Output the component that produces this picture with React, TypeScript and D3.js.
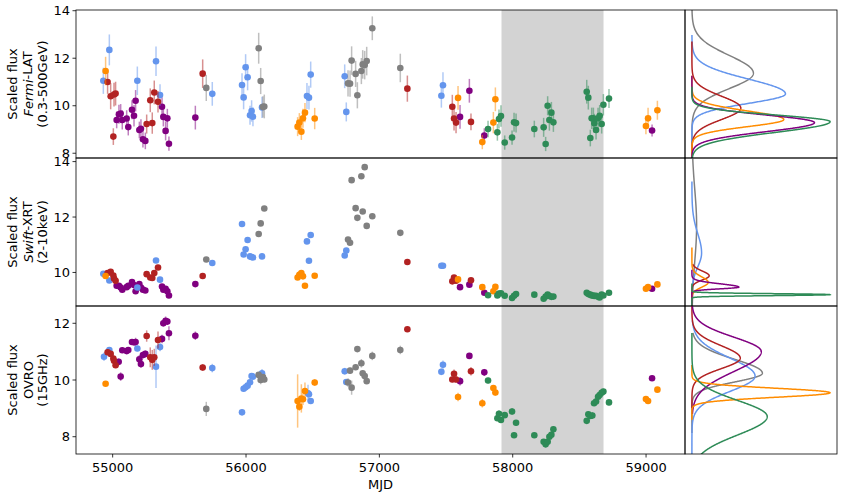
import React from 'react';
import * as d3 from 'd3';

type Pt = [number, number, number, string]; // MJD, scaled flux, error, season key
type Curve = [string, number, number, number, number, number, number]; // key, peak, mean, sdDown, sdUp, lo, hi

const mjdTicks = [55000, 56000, 57000, 58000, 59000];
const fermiTicks = [8, 10, 12, 14];
const swiftTicks = [10, 12, 14];
const ovroTicks = [8, 10, 12];
const shadedMjd = [57916, 58681];
const drawOrder = ['p', 'b', 'r', 'k', 'o', 'g'];

const fermiPoints: Pt[] = [
  [55030, 9.4, 0.35, 'p'], [55047, 9.64, 0.4, 'p'], [55060, 9.67, 0.4, 'p'], [55072, 9.4, 0.4, 'p'],
  [55105, 9.46, 0.35, 'p'], [55117, 9.1, 0.35, 'p'], [55145, 9.83, 0.4, 'p'], [55160, 9.58, 0.45, 'p'],
  [55172, 10.21, 0.45, 'p'], [55200, 8.98, 0.35, 'p'], [55212, 9.03, 0.4, 'p'], [55227, 8.59, 0.35, 'p'],
  [55245, 8.52, 0.35, 'p'], [55370, 9.96, 0.4, 'p'], [55380, 9.53, 0.4, 'p'], [55397, 8.94, 0.4, 'p'],
  [55410, 9.47, 0.4, 'p'], [55422, 8.4, 0.3, 'p'], [55620, 9.5, 0.5, 'p'], [57605, 9.53, 0.5, 'p'],
  [57675, 10.63, 0.5, 'p'], [57787, 8.75, 0.3, 'p'], [59045, 8.96, 0.25, 'p'],
  [54962, 11.0, 0.5, 'r'], [54985, 10.4, 0.55, 'r'], [55005, 8.7, 0.35, 'r'], [55010, 10.47, 0.5, 'r'],
  [55022, 10.51, 0.5, 'r'], [55255, 9.23, 0.4, 'r'], [55282, 10.23, 0.5, 'r'], [55297, 9.27, 0.45, 'r'],
  [55312, 10.56, 0.5, 'r'], [55340, 10.17, 0.45, 'r'], [55675, 11.35, 0.6, 'r'], [57210, 10.72, 0.55, 'r'],
  [57547, 9.96, 0.5, 'r'], [57560, 9.46, 0.5, 'r'], [57575, 9.29, 0.45, 'r'], [57687, 9.32, 0.35, 'r'],
  [54930, 11.05, 0.55, 'b'], [54975, 12.35, 0.65, 'b'], [55185, 11.05, 0.6, 'b'], [55325, 11.87, 0.62, 'b'],
  [55355, 10.45, 0.45, 'b'], [55747, 10.5, 0.5, 'b'], [55970, 10.87, 0.5, 'b'], [55982, 10.35, 0.5, 'b'],
  [55997, 11.62, 0.55, 'b'], [56012, 11.2, 0.55, 'b'], [56030, 9.6, 0.4, 'b'], [56042, 9.78, 0.45, 'b'],
  [56052, 9.54, 0.4, 'b'], [56120, 9.93, 0.45, 'b'], [56457, 10.41, 0.55, 'b'], [56472, 10.34, 0.5, 'b'],
  [56485, 11.31, 0.55, 'b'], [56740, 11.24, 0.5, 'b'], [56752, 9.74, 0.4, 'b'], [57465, 10.42, 0.5, 'b'],
  [57477, 10.86, 0.55, 'b'],
  [55702, 10.75, 0.55, 'k'], [56095, 12.42, 0.65, 'k'], [56110, 11.04, 0.55, 'k'], [56127, 9.95, 0.45, 'k'],
  [56137, 9.97, 0.5, 'k'], [56765, 10.94, 0.55, 'k'], [56780, 10.93, 0.55, 'k'], [56792, 11.9, 0.6, 'k'],
  [56822, 11.34, 0.55, 'k'], [56835, 10.44, 0.55, 'k'], [56865, 11.46, 0.55, 'k'], [56875, 11.74, 0.6, 'k'],
  [56890, 11.71, 0.6, 'k'], [56905, 11.88, 0.6, 'k'], [56947, 13.26, 0.5, 'k'], [57157, 11.59, 0.6, 'k'],
  [54947, 11.46, 0.6, 'o'], [56387, 9.12, 0.4, 'o'], [56400, 9.29, 0.4, 'o'], [56415, 8.91, 0.35, 'o'],
  [56427, 9.47, 0.4, 'o'], [56442, 9.71, 0.4, 'o'], [56515, 9.46, 0.45, 'o'], [57590, 10.33, 0.5, 'o'],
  [57772, 8.47, 0.3, 'o'], [57855, 9.29, 0.45, 'o'], [57870, 10.27, 0.5, 'o'], [58999, 9.15, 0.35, 'o'],
  [59015, 9.47, 0.45, 'o'], [59085, 9.81, 0.4, 'o'],
  [57815, 9.02, 0.35, 'g'], [57885, 8.88, 0.35, 'g'], [57897, 9.44, 0.4, 'g'], [57912, 9.57, 0.45, 'g'],
  [57940, 8.45, 0.3, 'g'], [57995, 8.66, 0.3, 'g'], [58010, 9.3, 0.4, 'g'], [58025, 9.27, 0.4, 'g'],
  [58162, 9.02, 0.35, 'g'], [58232, 9.09, 0.4, 'g'], [58247, 8.39, 0.3, 'g'], [58262, 10.0, 0.4, 'g'],
  [58275, 9.4, 0.45, 'g'], [58290, 9.71, 0.45, 'g'], [58305, 9.3, 0.4, 'g'], [58555, 10.59, 0.5, 'g'],
  [58567, 10.34, 0.5, 'g'], [58582, 8.64, 0.35, 'g'], [58592, 9.47, 0.45, 'g'], [58605, 9.47, 0.45, 'g'],
  [58612, 9.26, 0.4, 'g'], [58625, 8.98, 0.4, 'g'], [58640, 9.47, 0.45, 'g'], [58652, 9.58, 0.45, 'g'],
  [58667, 9.23, 0.4, 'g'], [58680, 10.04, 0.45, 'g'], [58722, 10.3, 0.4, 'g'],
];

const swiftPoints: Pt[] = [
  [55030, 9.52, 0.03, 'p'], [55047, 9.52, 0.03, 'p'], [55060, 9.46, 0.03, 'p'], [55072, 9.38, 0.03, 'p'],
  [55105, 9.47, 0.03, 'p'], [55117, 9.52, 0.03, 'p'], [55145, 9.65, 0.03, 'p'], [55160, 9.55, 0.03, 'p'],
  [55172, 9.32, 0.03, 'p'], [55200, 9.58, 0.03, 'p'], [55212, 9.46, 0.03, 'p'], [55227, 9.38, 0.03, 'p'],
  [55245, 9.35, 0.03, 'p'], [55370, 9.49, 0.03, 'p'], [55380, 9.38, 0.03, 'p'], [55397, 9.41, 0.03, 'p'],
  [55410, 9.32, 0.03, 'p'], [55422, 9.17, 0.03, 'p'], [55620, 9.58, 0.03, 'p'], [57605, 9.47, 0.03, 'p'],
  [57675, 9.56, 0.03, 'p'], [57787, 9.27, 0.03, 'p'], [59045, 9.41, 0.03, 'p'],
  [54962, 9.98, 0.03, 'r'], [54985, 10.02, 0.03, 'r'], [55005, 9.89, 0.03, 'r'], [55010, 9.78, 0.03, 'r'],
  [55022, 9.7, 0.03, 'r'], [55255, 9.94, 0.03, 'r'], [55282, 9.82, 0.03, 'r'], [55297, 9.8, 0.03, 'r'],
  [55312, 9.98, 0.03, 'r'], [55340, 10.18, 0.03, 'r'], [55675, 9.87, 0.03, 'r'], [57210, 10.38, 0.03, 'r'],
  [57547, 9.68, 0.03, 'r'], [57560, 9.82, 0.03, 'r'], [57575, 9.7, 0.03, 'r'], [57687, 9.72, 0.03, 'r'],
  [54930, 9.95, 0.03, 'b'], [54975, 9.71, 0.03, 'b'], [55185, 9.46, 0.03, 'b'], [55325, 10.43, 0.03, 'b'],
  [55355, 9.74, 0.03, 'b'], [55747, 10.34, 0.03, 'b'], [55970, 11.75, 0.03, 'b'], [55982, 10.65, 0.03, 'b'],
  [55997, 10.84, 0.03, 'b'], [56012, 11.17, 0.03, 'b'], [56030, 10.58, 0.03, 'b'], [56042, 10.56, 0.03, 'b'],
  [56052, 10.54, 0.03, 'b'], [56120, 10.58, 0.03, 'b'], [56457, 11.12, 0.03, 'b'], [56472, 10.42, 0.03, 'b'],
  [56485, 11.35, 0.03, 'b'], [56740, 10.61, 0.03, 'b'], [56752, 10.79, 0.03, 'b'], [57465, 10.24, 0.03, 'b'],
  [57477, 10.24, 0.03, 'b'],
  [55702, 10.47, 0.03, 'k'], [56095, 11.39, 0.03, 'k'], [56110, 11.77, 0.03, 'k'], [56137, 12.31, 0.03, 'k'],
  [56765, 11.19, 0.03, 'k'], [56780, 11.07, 0.03, 'k'], [56792, 13.33, 0.03, 'k'], [56822, 12.32, 0.03, 'k'],
  [56835, 11.97, 0.03, 'k'], [56865, 13.47, 0.03, 'k'], [56875, 12.2, 0.03, 'k'], [56890, 13.8, 0.03, 'k'],
  [56905, 11.68, 0.03, 'k'], [56947, 12.03, 0.03, 'k'], [57157, 11.43, 0.03, 'k'],
  [54947, 9.87, 0.03, 'o'], [56387, 9.82, 0.03, 'o'], [56400, 9.92, 0.03, 'o'], [56415, 9.98, 0.03, 'o'],
  [56427, 9.86, 0.03, 'o'], [56442, 9.52, 0.03, 'o'], [56515, 9.88, 0.03, 'o'], [57590, 9.75, 0.03, 'o'],
  [57772, 9.47, 0.03, 'o'], [57855, 9.32, 0.03, 'o'], [57870, 9.48, 0.03, 'o'], [58999, 9.41, 0.03, 'o'],
  [59015, 9.47, 0.03, 'o'], [59085, 9.57, 0.03, 'o'],
  [57815, 9.18, 0.03, 'g'], [57885, 9.17, 0.03, 'g'], [57897, 9.24, 0.03, 'g'], [57912, 9.25, 0.03, 'g'],
  [57940, 9.16, 0.03, 'g'], [57995, 9.08, 0.03, 'g'], [58010, 9.16, 0.03, 'g'], [58025, 9.22, 0.03, 'g'],
  [58162, 9.2, 0.03, 'g'], [58232, 9.05, 0.03, 'g'], [58247, 9.13, 0.03, 'g'], [58262, 9.2, 0.03, 'g'],
  [58275, 9.15, 0.03, 'g'], [58290, 9.12, 0.03, 'g'], [58305, 9.13, 0.03, 'g'], [58555, 9.27, 0.03, 'g'],
  [58567, 9.22, 0.03, 'g'], [58582, 9.2, 0.03, 'g'], [58592, 9.17, 0.03, 'g'], [58605, 9.17, 0.03, 'g'],
  [58612, 9.15, 0.03, 'g'], [58625, 9.16, 0.03, 'g'], [58640, 9.12, 0.03, 'g'], [58652, 9.1, 0.03, 'g'],
  [58667, 9.2, 0.03, 'g'], [58680, 9.17, 0.03, 'g'], [58722, 9.27, 0.03, 'g'],
];

const ovroPoints: Pt[] = [
  [55045, 10.64, 0.12, 'p'], [55060, 10.12, 0.15, 'p'], [55072, 11.05, 0.1, 'p'], [55105, 11.02, 0.1, 'p'],
  [55117, 11.06, 0.1, 'p'], [55145, 11.34, 0.1, 'p'], [55160, 11.33, 0.12, 'p'], [55172, 11.34, 0.15, 'p'],
  [55200, 10.73, 0.15, 'p'], [55212, 10.56, 0.12, 'p'], [55227, 10.88, 0.12, 'p'], [55245, 10.92, 0.12, 'p'],
  [55370, 11.45, 0.15, 'p'], [55380, 12.0, 0.12, 'p'], [55397, 12.09, 0.15, 'p'], [55410, 12.06, 0.12, 'p'],
  [55422, 11.65, 0.25, 'p'], [55620, 11.56, 0.15, 'p'], [57605, 9.96, 0.15, 'p'], [57675, 10.85, 0.1, 'p'],
  [57787, 10.27, 0.12, 'p'], [59045, 10.06, 0.05, 'p'],
  [54962, 10.98, 0.1, 'r'], [54985, 10.92, 0.1, 'r'], [55005, 10.76, 0.1, 'r'], [55010, 10.68, 0.1, 'r'],
  [55022, 10.52, 0.1, 'r'], [55255, 11.55, 0.2, 'r'], [55282, 10.8, 0.35, 'r'], [55297, 10.71, 0.35, 'r'],
  [55312, 10.8, 0.3, 'r'], [55340, 11.41, 0.3, 'r'], [55675, 10.44, 0.12, 'r'], [57210, 11.79, 0.05, 'r'],
  [57547, 10.02, 0.1, 'r'], [57560, 10.22, 0.15, 'r'], [57575, 10.02, 0.12, 'r'], [57687, 10.31, 0.15, 'r'],
  [54935, 10.82, 0.15, 'b'], [54975, 11.06, 0.1, 'b'], [55185, 11.11, 0.1, 'b'], [55325, 10.47, 0.75, 'b'],
  [55355, 11.16, 0.15, 'b'], [55747, 10.42, 0.15, 'b'], [55970, 8.86, 0.12, 'b'], [55982, 9.69, 0.1, 'b'],
  [55997, 9.74, 0.1, 'b'], [56012, 9.8, 0.1, 'b'], [56030, 9.92, 0.1, 'b'], [56042, 10.14, 0.1, 'b'],
  [56052, 10.12, 0.1, 'b'], [56120, 10.24, 0.15, 'b'], [56465, 9.53, 0.3, 'b'], [56472, 9.5, 0.15, 'b'],
  [56485, 9.26, 0.1, 'b'], [56740, 10.31, 0.12, 'b'], [56752, 9.93, 0.1, 'b'], [57465, 10.29, 0.12, 'b'],
  [57477, 10.54, 0.15, 'b'],
  [55702, 8.98, 0.25, 'k'], [56095, 10.18, 0.1, 'k'], [56110, 10.0, 0.15, 'k'], [56127, 10.1, 0.1, 'k'],
  [56137, 10.02, 0.1, 'k'], [56765, 9.91, 0.15, 'k'], [56780, 10.33, 0.1, 'k'], [56792, 9.73, 0.25, 'k'],
  [56822, 10.45, 0.1, 'k'], [56835, 11.09, 0.1, 'k'], [56865, 10.59, 0.15, 'k'], [56875, 10.24, 0.1, 'k'],
  [56890, 10.14, 0.1, 'k'], [56905, 9.96, 0.1, 'k'], [56947, 10.85, 0.15, 'k'], [57157, 11.06, 0.15, 'k'],
  [54947, 9.87, 0.05, 'o'], [56387, 9.26, 0.94, 'o'], [56400, 9.06, 0.15, 'o'], [56415, 9.35, 0.5, 'o'],
  [56427, 9.32, 0.2, 'o'], [56442, 9.61, 0.3, 'o'], [56515, 9.91, 0.12, 'o'], [57590, 9.4, 0.15, 'o'],
  [57772, 9.18, 0.15, 'o'], [57855, 9.72, 0.1, 'o'], [57870, 9.56, 0.12, 'o'], [58999, 9.33, 0.08, 'o'],
  [59015, 9.26, 0.05, 'o'], [59085, 9.66, 0.05, 'o'],
  [57815, 9.98, 0.1, 'g'], [57885, 8.65, 0.1, 'g'], [57897, 8.81, 0.12, 'g'], [57912, 8.59, 0.1, 'g'],
  [57940, 8.76, 0.1, 'g'], [57995, 8.89, 0.12, 'g'], [58010, 8.05, 0.1, 'g'], [58025, 8.49, 0.1, 'g'],
  [58162, 8.05, 0.08, 'g'], [58232, 7.82, 0.1, 'g'], [58247, 7.73, 0.1, 'g'], [58262, 7.82, 0.1, 'g'],
  [58275, 8.0, 0.1, 'g'], [58290, 8.07, 0.1, 'g'], [58305, 8.26, 0.1, 'g'], [58555, 8.56, 0.1, 'g'],
  [58567, 8.79, 0.1, 'g'], [58582, 8.73, 0.1, 'g'], [58597, 8.75, 0.12, 'g'], [58610, 9.18, 0.1, 'g'],
  [58625, 9.24, 0.1, 'g'], [58640, 9.41, 0.1, 'g'], [58652, 9.47, 0.1, 'g'], [58667, 9.55, 0.1, 'g'],
  [58680, 9.59, 0.1, 'g'], [58722, 9.21, 0.1, 'g'],
];

// key, relative peak height, centre, sd below, sd above, lower end, upper end
const fermiCurves: Curve[] = [
  ['k', 0.445, 11.37, 0.65, 0.75, 7.7, 14.2],
  ['b', 0.677, 10.5, 0.4, 0.62, 7.7, 12.98],
  ['r', 0.354, 9.9, 0.48, 0.5, 7.7, 12.7],
  ['o', 0.665, 9.42, 0.3, 0.36, 7.7, 11.26],
  ['p', 0.887, 9.29, 0.38, 0.32, 7.7, 11.26],
  ['g', 1.0, 9.33, 0.45, 0.28, 7.7, 10.8],
];
const swiftCurves: Curve[] = [
  ['k', 0.034, 11.7, 1.3, 1.3, 8.7, 14.2],
  ['b', 0.07, 10.7, 0.5, 0.7, 8.7, 13.28],
  ['r', 0.125, 9.88, 0.15, 0.17, 8.7, 10.3],
  ['o', 0.118, 9.64, 0.17, 0.2, 8.7, 10.9],
  ['p', 0.34, 9.47, 0.06, 0.12, 8.7, 10.1],
  ['g', 1.0, 9.2, 0.035, 0.035, 8.7, 9.6],
];
const ovroCurves: Curve[] = [
  ['k', 0.51, 10.24, 0.31, 0.49, 8.13, 11.66],
  ['b', 0.457, 10.14, 0.54, 0.63, 7.3, 12.1],
  ['r', 0.35, 10.77, 0.37, 0.44, 9.0, 12.7],
  ['p', 0.502, 11.0, 0.7, 0.51, 8.8, 12.7],
  ['o', 1.0, 9.55, 0.16, 0.16, 8.6, 10.53],
  ['g', 0.545, 8.71, 0.65, 0.57, 7.3, 11.66],
];

const COLORS: Record<string, string> = {
  b: '#6495ED', o: '#FF8C00', r: '#B22222', p: '#800080', k: '#808080', g: '#2E8B57',
};

const FONT = 'DejaVu Sans, sans-serif';
const L = 76, R = 685, SR = 837, PH = 148;
const TOPS = [10, 158, 306];

const panels = [
  { pts: fermiPoints, curves: fermiCurves, ticks: fermiTicks, domain: [7.8, 14.03], name: 'Fermi', rest: '-LAT', band: '(0.3-500GeV)', italic: true },
  { pts: swiftPoints, curves: swiftCurves, ticks: swiftTicks, domain: [8.79, 14.13], name: 'Swift', rest: '-XRT', band: '(2-10keV)', italic: true },
  { pts: ovroPoints, curves: ovroCurves, ticks: ovroTicks, domain: [7.39, 12.61], name: 'OVRO', rest: '', band: '(15GHz)', italic: false },
];

export default function App() {
  const x = d3.scaleLinear().domain([54725, 59292]).range([L, R]);
  const xd = d3.scaleLinear().domain([-0.05, 1.05]).range([R, SR]);

  return (
    <svg width={847} height={497} style={{ position: 'absolute', left: 0, top: 0, fontFamily: FONT }}>
      <defs>
        {TOPS.map((t, i) => (
          <clipPath id={`main${i}`} key={`m${i}`}><rect x={L} y={t} width={R - L} height={PH} /></clipPath>
        ))}
        {TOPS.map((t, i) => (
          <clipPath id={`side${i}`} key={`s${i}`}><rect x={R} y={t} width={SR - R} height={PH} /></clipPath>
        ))}
      </defs>
      <rect x={0} y={0} width={847} height={497} fill="#fff" />
      <rect x={x(shadedMjd[0])} y={TOPS[0]} width={x(shadedMjd[1]) - x(shadedMjd[0])} height={PH * 3} fill="#d3d3d3" />

      {panels.map((p, i) => {
        const top = TOPS[i];
        const y = d3.scaleLinear().domain(p.domain).range([top + PH, top]);
        const line = d3.line<[number, number]>().x(d => d[0]).y(d => d[1]);
        const pts = drawOrder.flatMap(k => p.pts.filter(d => d[3] === k));
        return (
          <g key={i}>
            <g clipPath={`url(#main${i})`}>
              {pts.map((d, j) => (
                <g key={j}>
                  <line x1={x(d[0])} x2={x(d[0])} y1={y(d[1] - d[2])} y2={y(d[1] + d[2])}
                    stroke={COLORS[d[3]]} strokeOpacity={0.5} strokeWidth={1.5} />
                  <circle cx={x(d[0])} cy={y(d[1])} r={3.3} fill={COLORS[d[3]]} />
                </g>
              ))}
            </g>
            <g clipPath={`url(#side${i})`}>
              {p.curves.map((c, j) => {
                const [key, peak, mu, sdn, sup, lo, hi] = c;
                const cpts: [number, number][] = d3.range(0, 601).map(k => {
                  const v = lo + (hi - lo) * k / 600;
                  const s = v < mu ? sdn : sup;
                  const dens = peak * Math.exp(-((v - mu) * (v - mu)) / (2 * s * s));
                  return [xd(dens), y(v)];
                });
                return <path key={j} d={line(cpts) || ''} fill="none" stroke={COLORS[key]} strokeWidth={1.5} />;
              })}
            </g>
            <rect x={L} y={top} width={R - L} height={PH} fill="none" stroke="#000" strokeWidth={0.8} />
            <rect x={R} y={top} width={SR - R} height={PH} fill="none" stroke="#000" strokeWidth={0.8} />
            {p.ticks.map(t => (
              <g key={t}>
                <line x1={L - 3.5} x2={L} y1={y(t)} y2={y(t)} stroke="#000" strokeWidth={0.8} />
                <text x={L - 6} y={y(t)} dy="0.36em" textAnchor="end" fontSize={13} fill="#000">{t}</text>
              </g>
            ))}
            <g transform={`translate(0,${top + PH / 2})`} fontSize={13}>
              <text transform="translate(12.5,0) rotate(-90)" textAnchor="middle" dominantBaseline="central">Scaled flux</text>
              <text transform="translate(27.5,0) rotate(-90)" textAnchor="middle" dominantBaseline="central">
                <tspan fontStyle={p.italic ? 'italic' : 'normal'}>{p.name}</tspan>{p.rest}
              </text>
              <text transform="translate(42,0) rotate(-90)" textAnchor="middle" dominantBaseline="central">{p.band}</text>
            </g>
          </g>
        );
      })}

      {mjdTicks.map(t => (
        <g key={t}>
          <line x1={x(t)} x2={x(t)} y1={TOPS[2] + PH} y2={TOPS[2] + PH + 3.5} stroke="#000" strokeWidth={0.8} />
          <text x={x(t)} y={471.5} textAnchor="middle" fontSize={13}>{t}</text>
        </g>
      ))}
      <text x={(L + R) / 2} y={488.5} textAnchor="middle" fontSize={13}>MJD</text>
    </svg>
  );
}
